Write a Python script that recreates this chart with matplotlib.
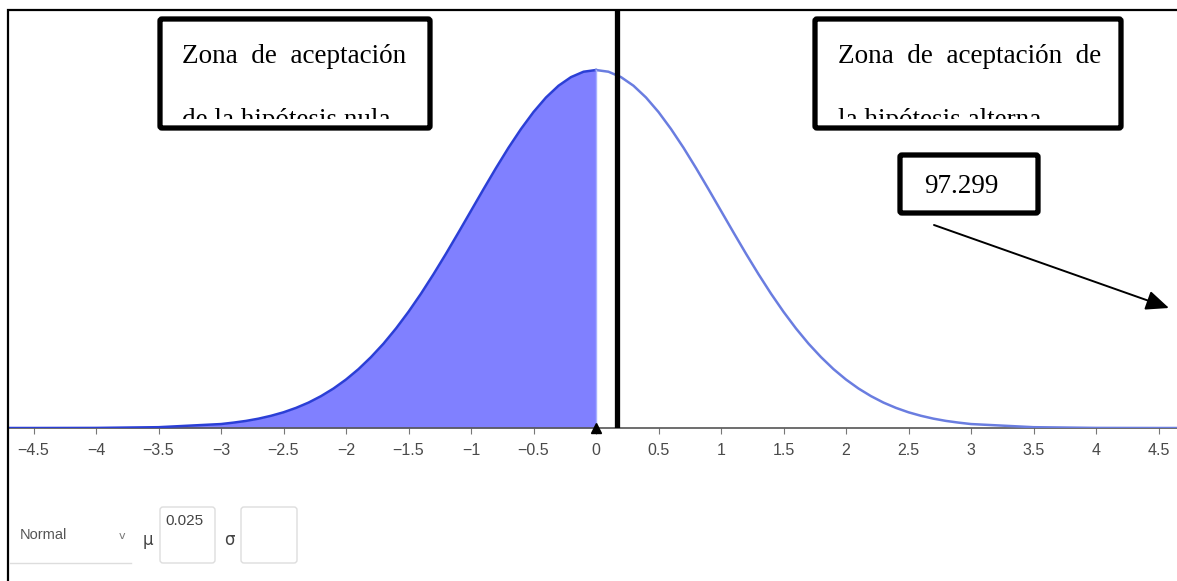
import matplotlib
matplotlib.use("Agg")
from matplotlib import pyplot as plt
from matplotlib.patches import FancyBboxPatch
from matplotlib.transforms import Bbox

# Curve (normal density, mean 0, sd 1)
curve_x = [-4.7, -4.5, -4.0, -3.5,
           -3.0, -2.9, -2.8, -2.7, -2.6, -2.5, -2.4, -2.3, -2.2, -2.1,
           -2.0, -1.9, -1.8, -1.7, -1.6, -1.5, -1.4, -1.3, -1.2, -1.1,
           -1.0, -0.9, -0.8, -0.7, -0.6, -0.5, -0.4, -0.3, -0.2, -0.1,
           0.0,
           0.1, 0.2, 0.3, 0.4, 0.5, 0.6, 0.7, 0.8, 0.9, 1.0,
           1.1, 1.2, 1.3, 1.4, 1.5, 1.6, 1.7, 1.8, 1.9, 2.0,
           2.1, 2.2, 2.3, 2.4, 2.5, 2.6, 2.7, 2.8, 2.9, 3.0,
           3.5, 4.0, 4.5, 4.7]
curve_y = [0.0000, 0.0000, 0.0001, 0.0009,
           0.0044, 0.0060, 0.0079, 0.0104, 0.0136, 0.0175, 0.0224, 0.0283, 0.0355, 0.0440,
           0.0540, 0.0656, 0.0790, 0.0940, 0.1109, 0.1295, 0.1497, 0.1714, 0.1942, 0.2179,
           0.2420, 0.2661, 0.2897, 0.3123, 0.3332, 0.3521, 0.3683, 0.3814, 0.3910, 0.3970,
           0.3989,
           0.3970, 0.3910, 0.3814, 0.3683, 0.3521, 0.3332, 0.3123, 0.2897, 0.2661, 0.2420,
           0.2179, 0.1942, 0.1714, 0.1497, 0.1295, 0.1109, 0.0940, 0.0790, 0.0656, 0.0540,
           0.0440, 0.0355, 0.0283, 0.0224, 0.0175, 0.0136, 0.0104, 0.0079, 0.0060, 0.0044,
           0.0009, 0.0001, 0.0000, 0.0000]
shade_to = 0.0
cut_line = 0.17
tick_values = [-4.5, -4, -3.5, -3, -2.5, -2, -1.5, -1, -0.5, 0,
               0.5, 1, 1.5, 2, 2.5, 3, 3.5, 4, 4.5]
tick_labels = ["\u22124.5", "\u22124", "\u22123.5", "\u22123", "\u22122.5", "\u22122",
               "\u22121.5", "\u22121", "\u22120.5", "0", "0.5", "1", "1.5", "2",
               "2.5", "3", "3.5", "4", "4.5"]
box_null = ["Zona  de  aceptación", "de la hipótesis nula"]
box_alt = ["Zona  de  aceptación  de", "la hipótesis alterna"]
value_label = "97.299"
dist_name = "Normal"
mu_text = "0.025"

W, H = 1177, 581
fig = plt.figure(figsize=(W / 100, H / 100), dpi=100)
fig.patch.set_facecolor("white")

serif = ["Liberation Serif", "DejaVu Serif"]
sans = ["Liberation Sans", "DejaVu Sans"]

# main plotting area: x from px 8 to 1177, y from px 10 to 428
ax = fig.add_axes([8 / W, (H - 428) / H, (W - 8) / W, 418 / H])
ax.set_xlim((8 - 596) / 125, (W - 596) / 125)
ax.set_ylim(0, 418 / 897.4)

n_left = len([x for x in curve_x if x <= shade_to])
left_x, left_y = curve_x[:n_left], curve_y[:n_left]
right_x, right_y = curve_x[n_left - 1:], curve_y[n_left - 1:]

ax.fill_between(left_x, left_y, 0, color="#8080ff", lw=0, zorder=2)
ax.plot(left_x, left_y, color="#2b3fd6", lw=1.8, zorder=3)
ax.plot(right_x, right_y, color="#6a7de0", lw=1.8, zorder=3)
ax.plot([shade_to, shade_to], [0, curve_y[n_left - 1]], color="#a8b0ff", lw=1, zorder=3)
ax.plot([0], [0], marker="^", color="black", ms=7, zorder=5, clip_on=False)
ax.axvline(cut_line, color="black", lw=3.8, zorder=4)

for s in ["top", "left", "right"]:
    ax.spines[s].set_visible(False)
ax.spines["bottom"].set_color("#555555")
ax.spines["bottom"].set_linewidth(1.2)
ax.set_yticks([])
ax.set_xticks(tick_values)
ax.set_xticklabels(tick_labels, family=sans, fontsize=11.5, color="#4a4a4a")
ax.tick_params(axis="x", length=4, width=0.8, color="#777777", pad=7)

# overlay in pixel coordinates for boxes, frame and widgets
ov = fig.add_axes([0, 0, 1, 1], zorder=10)
ov.set_xlim(0, W)
ov.set_ylim(H, 0)
ov.axis("off")
ov.patch.set_alpha(0)

# page frame
ov.plot([8, 8, W], [H, 10, 10], color="black", lw=1.6, solid_joinstyle="miter")


def text_box(x0, y0, x1, y1, lines, tx):
    ov.add_patch(FancyBboxPatch((x0, y0), x1 - x0, y1 - y0, boxstyle="round,pad=0,rounding_size=2",
                                fc="white", ec="black", lw=3.8, zorder=11))
    # second line is cut off by the box, as in the original document
    clip = Bbox.from_extents(x0, H - (y1 - 9), x1, H - y0)
    for i, line in enumerate(lines):
        t = ov.text(tx, y0 + 44 + i * 64, line, family=serif, fontsize=19.5,
                    va="baseline", ha="left", zorder=12)
        t.set_clip_box(clip)
        t.set_clip_on(True)


text_box(160, 19, 430, 128, box_null, 182)
text_box(815, 19, 1121, 128, box_alt, 838)

ov.add_patch(FancyBboxPatch((900, 155), 138, 58, boxstyle="round,pad=0,rounding_size=2",
                            fc="white", ec="black", lw=3.8, zorder=11))
ov.text(924, 193, value_label, family=serif, fontsize=19.5, va="baseline", ha="left", zorder=12)

ov.annotate("", xy=(1169, 308), xytext=(934, 225),
            arrowprops=dict(arrowstyle="-|>,head_length=1.4,head_width=0.6",
                            color="black", lw=1.4, shrinkA=0, shrinkB=0), zorder=12)

# distribution selector widgets
ov.text(20, 535, dist_name, family=sans, fontsize=10.5, color="#555555", va="center", ha="left")
ov.text(122, 536, "v", family="DejaVu Sans", fontsize=8, color="#777777", va="center", ha="center")
ov.plot([10, 131], [563, 563], color="#dddddd", lw=1)
ov.text(148, 540, "\u03bc", family="DejaVu Sans", fontsize=12, color="#444444", va="center", ha="center")
ov.add_patch(FancyBboxPatch((160, 507), 55, 56, boxstyle="round,pad=0,rounding_size=3",
                            fc="white", ec="#dddddd", lw=1))
ov.text(165, 521, mu_text, family=sans, fontsize=11, color="#444444", va="center", ha="left")
ov.text(229, 540, "\u03c3", family="DejaVu Sans", fontsize=12, color="#444444", va="center", ha="center")
ov.add_patch(FancyBboxPatch((241, 507), 56, 56, boxstyle="round,pad=0,rounding_size=3",
                            fc="white", ec="#dddddd", lw=1))

fig.savefig("out.png", dpi=100)
